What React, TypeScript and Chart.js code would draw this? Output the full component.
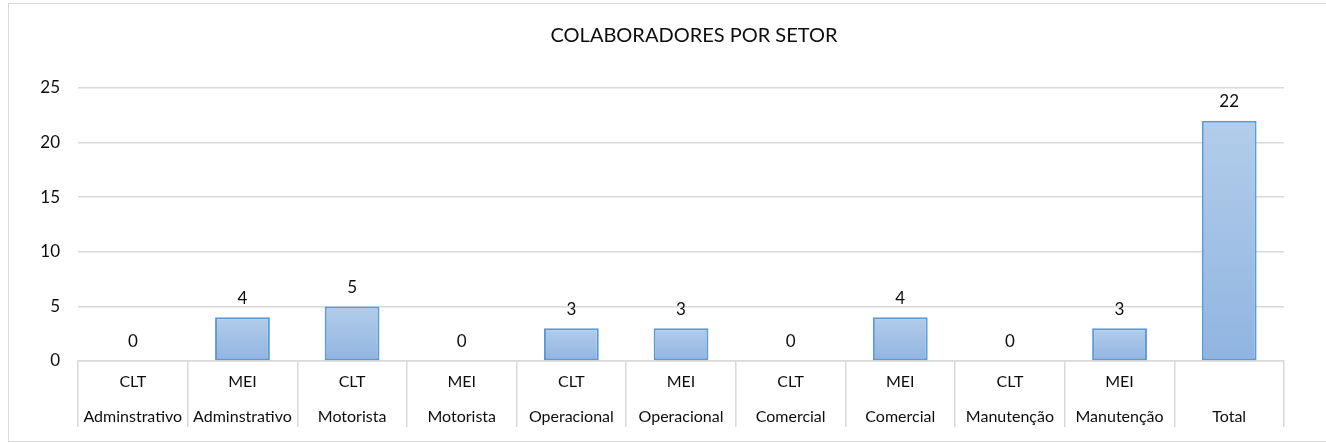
import React, { useEffect, useRef } from "react";
import { Chart, registerables } from "chart.js";

Chart.register(...registerables);

const contractTypes = ["CLT", "MEI", "CLT", "MEI", "CLT", "MEI", "CLT", "MEI", "CLT", "MEI", ""];
const sectors = [
  "Adminstrativo",
  "Adminstrativo",
  "Motorista",
  "Motorista",
  "Operacional",
  "Operacional",
  "Comercial",
  "Comercial",
  "Manutenção",
  "Manutenção",
  "Total",
];
const collaborators = [0, 4, 5, 0, 3, 3, 0, 4, 0, 3, 22];
const yTicks = [0, 5, 10, 15, 20, 25];
const chartTitle = "COLABORADORES POR SETOR";

const FONT = "Lato";
const TEXT = "#0d0d0d";
const GRID = "#d9d9d9";

const valueLabels = {
  id: "valueLabels",
  afterDatasetsDraw(chart: any) {
    const { ctx } = chart;
    const meta = chart.getDatasetMeta(0);
    ctx.save();
    ctx.font = `17px ${FONT}`;
    ctx.fillStyle = TEXT;
    ctx.textAlign = "center";
    ctx.textBaseline = "middle";
    meta.data.forEach((bar: any, i: number) => {
      const v = chart.data.datasets[0].data[i];
      ctx.fillText(String(v), bar.x, bar.y - 19);
    });
    ctx.restore();
  },
};

export default function App() {
  const ref = useRef<HTMLCanvasElement>(null);

  useEffect(() => {
    if (!ref.current) return;
    const labels = sectors.map((s, i) => [contractTypes[i], s]);
    const chart = new Chart(ref.current, {
      type: "bar",
      data: {
        labels,
        datasets: [
          {
            data: collaborators,
            backgroundColor: (c: any) => {
              const ch = c.chart;
              const ys = ch.scales && ch.scales.y;
              if (!ys || !ch.chartArea || c.type !== "data") return "#a3c1e6";
              const top = ys.getPixelForValue(c.raw);
              const bot = ys.getPixelForValue(0);
              if (bot - top < 1) return "#a3c1e6";
              const g = ch.ctx.createLinearGradient(0, top, 0, bot);
              g.addColorStop(0, "#b3cdea");
              g.addColorStop(1, "#90b4e1");
              return g;
            },
            borderColor: "#5b9bd5",
            borderWidth: (c: any) => (c.raw === 0 ? 0 : 2),
            borderSkipped: false,
            categoryPercentage: 0.5,
            barPercentage: 1,
          },
        ],
      },
      options: {
        responsive: false,
        animation: false,
        layout: { padding: 0 },
        plugins: {
          legend: { display: false },
          tooltip: { enabled: false },
          title: {
            display: true,
            text: chartTitle,
            color: TEXT,
            font: { family: FONT, size: 20, weight: "normal", lineHeight: 1.2 },
            padding: { top: 20, bottom: 40 },
          },
        },
        scales: {
          x: {
            afterFit: (s: any) => {
              s.height = 79;
            },
            grid: {
              offset: true,
              drawOnChartArea: false,
              drawTicks: true,
              tickLength: 66,
              color: GRID,
              tickColor: GRID,
              lineWidth: 1.5,
            },
            border: { display: true, color: GRID, width: 1.5 },
            ticks: {
              autoSkip: false,
              maxRotation: 0,
              minRotation: 0,
              padding: -62.5,
              color: TEXT,
              font: { family: FONT, size: 16, lineHeight: "35px" },
            },
          },
          y: {
            min: 0,
            max: 25,
            afterFit: (s: any) => {
              s.width = 69;
            },
            afterBuildTicks: (s: any) => {
              s.ticks = yTicks.map((v) => ({ value: v }));
            },
            grid: { color: GRID, drawTicks: false, lineWidth: 1.5 },
            border: { display: false },
            ticks: {
              padding: 18,
              color: TEXT,
              font: { family: FONT, size: 17 },
            },
          },
          spacer: {
            type: "linear",
            position: "right",
            afterFit: (s: any) => {
              s.width = 95;
            },
            grid: { display: false, drawOnChartArea: false, drawTicks: false },
            border: { display: false },
            ticks: { display: false },
          },
        },
      },
      plugins: [valueLabels],
    });
    return () => chart.destroy();
  }, []);

  return (
    <div
      style={{
        position: "absolute",
        left: 8,
        top: 3,
        width: 1318,
        height: 439,
        overflow: "hidden",
      }}
    >
      <div
        style={{
          width: 1372,
          height: 439,
          border: `1.5px solid ${GRID}`,
          boxSizing: "border-box",
          background: "#fff",
        }}
      >
        <canvas ref={ref} width={1370} height={436} style={{ display: "block" }} />
      </div>
    </div>
  );
}
